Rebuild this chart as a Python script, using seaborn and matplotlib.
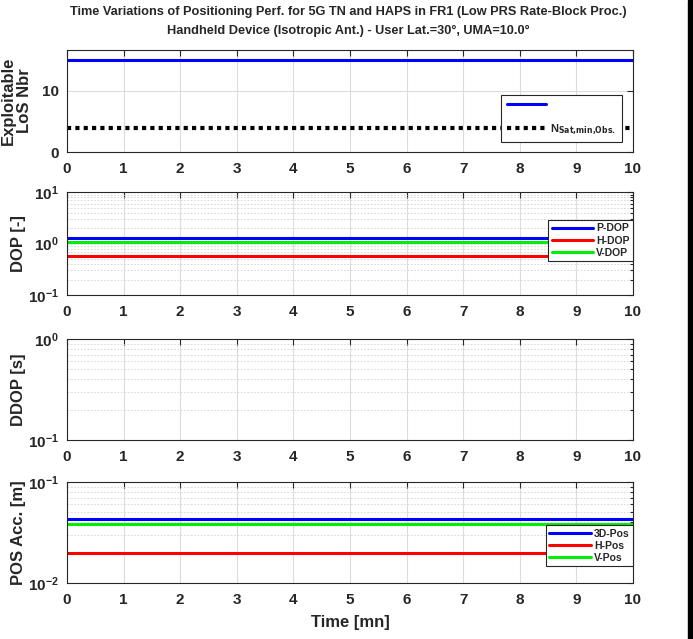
#%% ---- Load Packages ----
import matplotlib
matplotlib.use("Agg")
import matplotlib.pyplot as plt
import matplotlib.patches as mpatches
from matplotlib.ticker import LogLocator, NullFormatter
import seaborn as sns

# ---- Data ----
time_mn = [0, 1, 2, 3, 4, 5, 6, 7, 8, 9, 10]
los_nbr = [15, 15, 15, 15, 15, 15, 15, 15, 15, 15, 15]
n_sat_min = [4, 4, 4, 4, 4, 4, 4, 4, 4, 4, 4]
p_dop = [1.28, 1.28, 1.28, 1.28, 1.28, 1.28, 1.28, 1.28, 1.28, 1.28, 1.28]
h_dop = [0.57, 0.57, 0.57, 0.57, 0.57, 0.57, 0.57, 0.57, 0.57, 0.57, 0.57]
v_dop = [1.08, 1.08, 1.08, 1.08, 1.08, 1.08, 1.08, 1.08, 1.08, 1.08, 1.08]
pos_3d = [0.0428, 0.0428, 0.0428, 0.0428, 0.0428, 0.0428, 0.0428, 0.0428, 0.0428, 0.0428, 0.0428]
pos_h = [0.0197, 0.0197, 0.0197, 0.0197, 0.0197, 0.0197, 0.0197, 0.0197, 0.0197, 0.0197, 0.0197]
pos_v = [0.0382, 0.0382, 0.0382, 0.0382, 0.0382, 0.0382, 0.0382, 0.0382, 0.0382, 0.0382, 0.0382]
x_ticks = [0, 1, 2, 3, 4, 5, 6, 7, 8, 9, 10]

# ---- Style ----
sns.set_theme(style="white")
plt.rcParams['font.family'] = ['Liberation Sans', 'DejaVu Sans']
plt.rcParams['font.weight'] = 'bold'
plt.rcParams['axes.labelweight'] = 'bold'
plt.rcParams['mathtext.default'] = 'bf'
plt.rcParams['xtick.direction'] = 'in'
plt.rcParams['ytick.direction'] = 'in'

fig = plt.figure(figsize=(6.93, 6.39), dpi=100)
fig.patch.set_facecolor('white')

left, width = 0.0967, 0.8167
ax1 = fig.add_axes([left, 0.762, width, 0.1596])
ax2 = fig.add_axes([left, 0.5383, width, 0.161])
ax3 = fig.add_axes([left, 0.3114, width, 0.158])
ax4 = fig.add_axes([left, 0.0876, width, 0.158])

def style_axis(ax):
    ax.set_xlim(0, 10)
    ax.set_xticks(x_ticks)
    ax.tick_params(axis='both', which='both', top=True, right=True,
                   labelsize=11, colors='#262626', length=4, width=0.8)
    ax.tick_params(axis='x', which='major', pad=7)
    ax.tick_params(axis='y', which='major', pad=6)
    ax.tick_params(axis='both', which='minor', length=2)
    for lab in ax.get_xticklabels() + ax.get_yticklabels():
        lab.set_fontweight('bold')
    for sp in ax.spines.values():
        sp.set_color('#262626')
        sp.set_linewidth(0.8)
    ax.grid(True, axis='x', which='major', color='#dcdcdc', lw=0.8)
    ax.set_axisbelow(True)

# ---- Panel 1: LoS number ----
sns.lineplot(x=time_mn, y=los_nbr, color='blue', lw=2.2, ax=ax1, label=' ')
sns.lineplot(x=time_mn, y=n_sat_min, color='black', lw=3, ax=ax1,
             label=r'N$_{\mathbf{Sat{,}min{,}Obs.}}$')
ax1.lines[1].set_dashes((1, 1))
ax1.lines[1].set_dash_capstyle('butt')
ax1.set_ylim(0, 16.6)
ax1.set_yticks([0, 10])
ax1.grid(True, axis='y', which='major', color='#dcdcdc', lw=0.8)
ax1.set_ylabel('Exploitable\nLoS Nbr', fontsize=12, linespacing=1.05)
ax1.yaxis.set_label_coords(-0.062, 0.5)
leg1 = ax1.legend(loc='lower right', bbox_to_anchor=(0.99, 0.04), fontsize=8,
                  handlelength=3.5, labelspacing=1.1, borderpad=0.5,
                  handletextpad=0.4, fancybox=False, framealpha=1,
                  edgecolor='#262626')
leg1.get_frame().set_linewidth(0.8)

# ---- Panel 2: DOP ----
sns.lineplot(x=time_mn, y=p_dop, color='blue', lw=2.2, ax=ax2, label='P-DOP')
sns.lineplot(x=time_mn, y=h_dop, color='red', lw=2.2, ax=ax2, label='H-DOP')
sns.lineplot(x=time_mn, y=v_dop, color='#00ee00', lw=2.2, ax=ax2, label='V-DOP')
ax2.set_yscale('log')
ax2.set_ylim(0.1, 10)
ax2.set_ylabel('DOP [-]', fontsize=12)

# ---- Panel 3: DDOP (empty) ----
ax3.set_yscale('log')
ax3.set_ylim(0.1, 1)
ax3.set_ylabel('DDOP [s]', fontsize=12)

# ---- Panel 4: POS accuracy ----
sns.lineplot(x=time_mn, y=pos_3d, color='blue', lw=2.2, ax=ax4, label='3D-Pos')
sns.lineplot(x=time_mn, y=pos_h, color='red', lw=2.2, ax=ax4, label='H-Pos')
sns.lineplot(x=time_mn, y=pos_v, color='#00ee00', lw=2.2, ax=ax4, label='V-Pos')
ax4.set_yscale('log')
ax4.set_ylim(0.01, 0.1)
ax4.set_ylabel('POS Acc. [m]', fontsize=12)
ax4.set_xlabel('Time [mn]', fontsize=12, fontweight='bold', labelpad=6)

for ax in (ax2, ax3, ax4):
    ax.yaxis.set_major_locator(LogLocator(base=10, numticks=10))
    ax.yaxis.set_minor_locator(LogLocator(base=10, subs=range(2, 10), numticks=10))
    ax.yaxis.set_minor_formatter(NullFormatter())
    ax.grid(True, axis='y', which='both', color='#d4d4d4', lw=0.6, ls=(0, (2, 2)))
    ax.yaxis.set_label_coords(-0.072, 0.5)

for ax in (ax1, ax2, ax3, ax4):
    style_axis(ax)

leg2 = ax2.legend(loc='center right', bbox_to_anchor=(1.0, 0.53), fontsize=7.5,
                  handlelength=4.0, labelspacing=0.2, borderpad=0.3, borderaxespad=0,
                  handletextpad=0.3, fancybox=False, framealpha=1, edgecolor='#262626')
leg2.get_frame().set_linewidth(0.8)
leg4 = ax4.legend(loc='center right', bbox_to_anchor=(1.0, 0.37), fontsize=7.5,
                  handlelength=4.0, labelspacing=0.2, borderpad=0.3, borderaxespad=0,
                  handletextpad=0.3, fancybox=False, framealpha=1, edgecolor='#262626')
leg4.get_frame().set_linewidth(0.8)

# ---- Titles ----
fig.text(0.503, 0.981, 'Time Variations of Positioning Perf. for 5G TN and HAPS in FR1 (Low PRS Rate-Block Proc.)',
         ha='center', va='center', fontsize=9.2, fontweight='bold', color='#262626')
fig.text(0.503, 0.951, 'Handheld Device (Isotropic Ant.) - User Lat.=30°, UMA=10.0°',
         ha='center', va='center', fontsize=9.2, fontweight='bold', color='#262626')

# black strip at the right edge
fig.patches.append(mpatches.Rectangle((0.993, 0), 0.007, 1, transform=fig.transFigure,
                                      color='black', zorder=10))

fig.savefig('out.png', dpi=100)
